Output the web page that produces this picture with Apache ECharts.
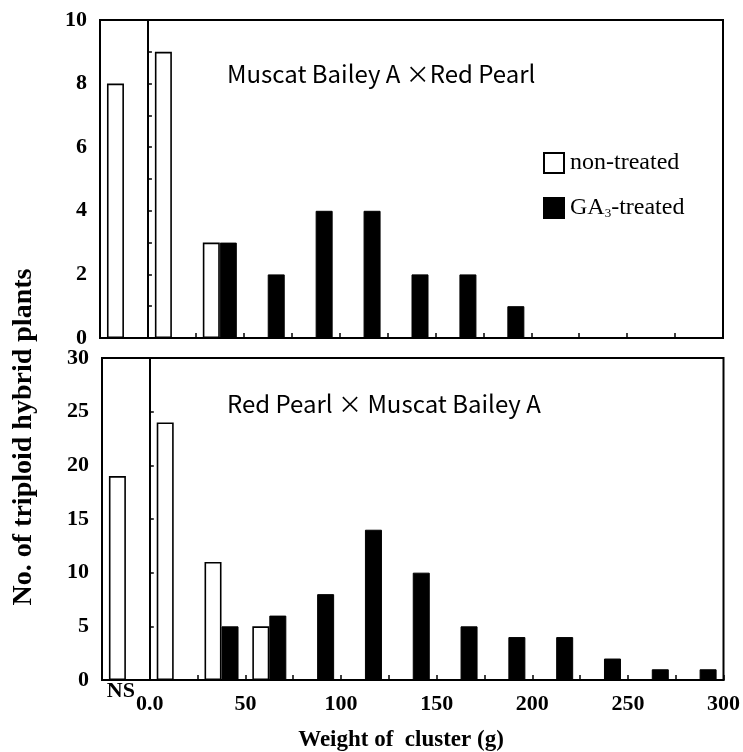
<!DOCTYPE html>
<html>
<head>
<meta charset="utf-8">
<script src="https://cdn.jsdelivr.net/npm/echarts@6/dist/echarts.min.js"></script>
<style>html,body{margin:0;padding:0;background:#fff;}#c{width:743px;height:752px;}</style>
</head>
<body>
<div id="c"></div>
<script>
// Bins: NS, then 25 g classes from 0 to 300
const categories = ['NS','0-25','25-50','50-75','75-100','100-125','125-150','150-175','175-200','200-225','225-250','250-275','275-300'];
// Top panel: Muscat Bailey A x Red Pearl
const topNonTreated = [8, 9, 3, 0, 0, 0, 0, 0, 0, 0, 0, 0, 0];
const topGA3Treated = [0, 0, 3, 2, 4, 4, 2, 2, 1, 0, 0, 0, 0];
// Bottom panel: Red Pearl x Muscat Bailey A
const botNonTreated = [19, 24, 11, 5, 0, 0, 0, 0, 0, 0, 0, 0, 0];
const botGA3Treated = [0, 0, 5, 6, 8, 14, 10, 5, 4, 4, 2, 1, 1];
const xTickLabels = {0: '0.0', 50: '50', 100: '100', 150: '150', 200: '200', 250: '250', 300: '300'};
const topTitle = 'Muscat Bailey A \u00d7Red Pearl';
const botTitle = 'Red Pearl \u00d7 Muscat Bailey A';

const SERIF = '"Liberation Serif", "Times New Roman", serif';
const SANS = '"Noto Sans CJK JP", "Noto Sans", sans-serif';
const chart = echarts.init(document.getElementById('c'), null, {renderer: 'canvas'});

function valueX(gridIndex, showLabels) {
  return {
    type: 'value', gridIndex: gridIndex, min: -25, max: 300, interval: 25, position: 'bottom',
    axisLine: {show: true, lineStyle: {color: '#000', width: 2}},
    axisTick: {show: true, inside: true, length: 5, lineStyle: {color: '#000', width: 1.5}},
    splitLine: {show: false},
    axisLabel: {
      show: showLabels, margin: 13, color: '#000', fontFamily: SERIF, fontWeight: 'bold', fontSize: 22,
      formatter: v => (xTickLabels[v] !== undefined ? xTickLabels[v] : '')
    }
  };
}
function catX(gridIndex, showNS) {
  return {
    type: 'category', gridIndex: gridIndex, data: categories, position: 'bottom',
    axisLine: {show: false}, axisTick: {show: false}, splitLine: {show: false},
    axisLabel: {
      show: showNS, interval: 0, margin: 0, color: '#000', fontFamily: SERIF, fontWeight: 'bold', fontSize: 22,
      padding: [0, 10, 0, 0],
      formatter: (v, i) => (i === 0 ? 'NS' : '')
    }
  };
}
function yAx(gridIndex, max, interval, labelStep) {
  return {
    type: 'value', gridIndex: gridIndex, min: 0, max: max, interval: interval,
    axisLine: {show: true, lineStyle: {color: '#000', width: 2}},
    axisTick: {show: true, inside: true, length: 4, lineStyle: {color: '#000', width: 1.5}},
    splitLine: {show: false},
    axisLabel: {
      margin: 13, color: '#000', fontFamily: SERIF, fontWeight: 'bold', fontSize: 22,
      formatter: v => (v % labelStep === 0 ? String(v) : '')
    }
  };
}
function barSeries(name, data, xi, yi, filled) {
  return {
    name: name, type: 'bar', xAxisIndex: xi, yAxisIndex: yi, data: data,
    barWidth: 17, barGap: '0%', silent: true,
    itemStyle: filled ? {color: '#000', borderColor: '#000', borderWidth: 1}
                      : {color: '#fff', borderColor: '#000', borderWidth: 1.6}
  };
}
function divider(xi, yi) {
  return {
    type: 'line', xAxisIndex: xi, yAxisIndex: yi, data: [[0, 0]], showSymbol: false, symbol: 'none',
    lineStyle: {width: 0}, silent: true,
    markLine: {symbol: 'none', silent: true, label: {show: false}, animation: false,
      lineStyle: {color: '#000', width: 2, type: 'solid'}, data: [{xAxis: 0}]}
  };
}

chart.setOption({
  animation: false,
  backgroundColor: '#fff',
  grid: [
    {left: 100, top: 20, right: 20, height: 318, show: true, borderColor: '#000', borderWidth: 2, backgroundColor: 'transparent'},
    {left: 102, top: 358, right: 19, height: 322, show: true, borderColor: '#000', borderWidth: 2, backgroundColor: 'transparent'}
  ],
  xAxis: [catX(0, false), valueX(0, false), catX(1, true), valueX(1, true)],
  yAxis: [yAx(0, 10, 1, 2), yAx(1, 30, 5, 5)],
  legend: {
    orient: 'vertical', left: 543, top: 151, padding: 0, itemGap: 21, itemWidth: 20, itemHeight: 20,
    selectedMode: false,
    data: [{name: 'non-treated', icon: 'rect'}, {name: 'GA3-treated', icon: 'rect'}],
    textStyle: {color: '#000', fontFamily: SERIF, fontSize: 24, padding: [0, 0, 0, 1],
      rich: {a: {fontFamily: SERIF, fontSize: 24, color: '#000'},
             s: {fontFamily: SERIF, fontSize: 13, color: '#000', verticalAlign: 'bottom', padding: [9, 0, 0, 0]}}},
    formatter: n => (n === 'GA3-treated' ? '{a|GA}{s|3}{a|-treated}' : '{a|non-treated}')
  },
  series: [
    barSeries('non-treated', topNonTreated, 0, 0, false),
    barSeries('GA3-treated', topGA3Treated, 0, 0, true),
    barSeries('non-treated', botNonTreated, 2, 1, false),
    barSeries('GA3-treated', botGA3Treated, 2, 1, true),
    divider(1, 0),
    divider(3, 1)
  ],
  graphic: [
    {type: 'text', left: 227, top: 62, style: {text: topTitle, fill: '#000', font: '400 24px ' + SANS}},
    {type: 'text', left: 227, top: 392, style: {text: botTitle, fill: '#000', font: '400 24px ' + SANS}},
    {type: 'text', x: 401, y: 740, style: {text: 'Weight of  cluster (g)', fill: '#000', font: 'bold 23px ' + SERIF, textAlign: 'center', textVerticalAlign: 'middle'}},
    {type: 'text', x: 24, y: 437, rotation: Math.PI / 2, style: {text: 'No. of triploid hybrid plants', fill: '#000', font: 'bold 28px ' + SERIF, textAlign: 'center', textVerticalAlign: 'middle'}}
  ]
});
</script>
</body>
</html>
